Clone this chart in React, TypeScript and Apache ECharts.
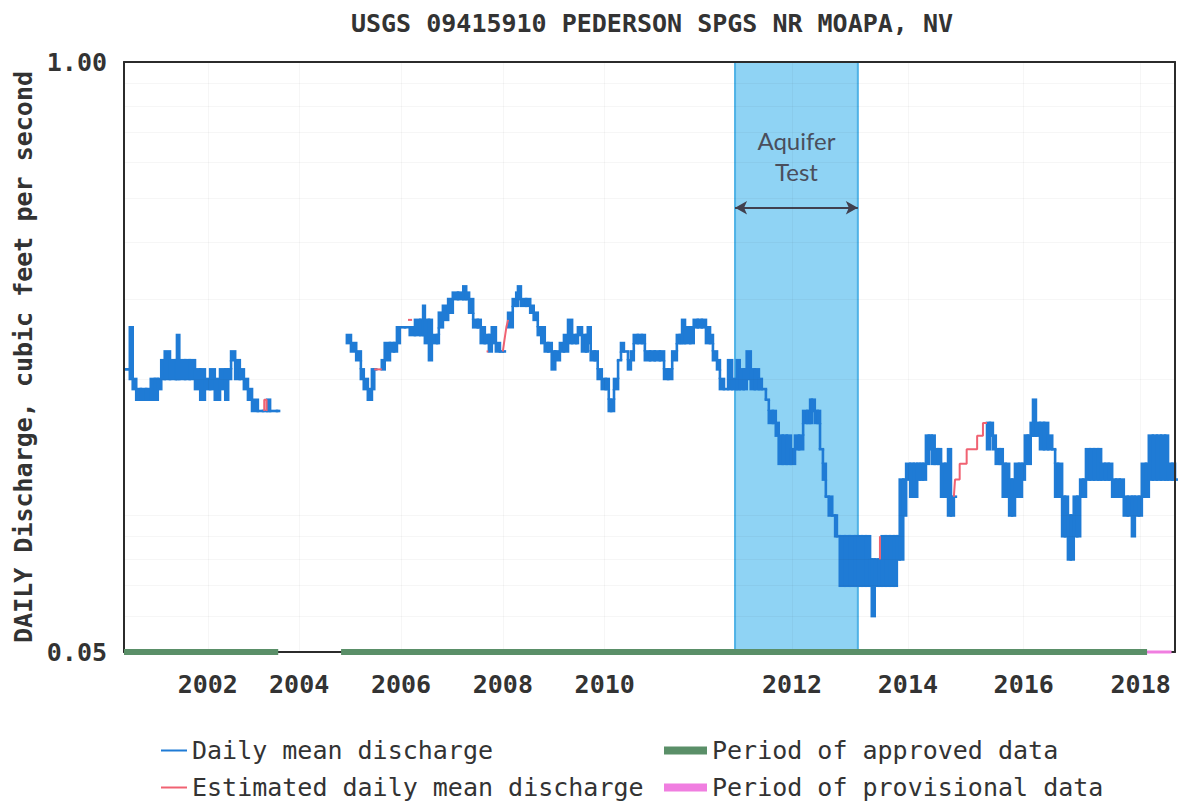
import React, { useEffect, useRef } from 'react';
import * as echarts from 'echarts';

const MONO = '"DejaVu Sans Mono", monospace';
const BLUE = '#1f7bd5';
const RED = '#f06272';
const GREEN = '#5a8f68';
const PINK = '#f07ee0';
const TEXT = '#333333';

const chartTitle = 'USGS 09415910 PEDERSON SPGS NR MOAPA, NV';
const yAxisTitle = 'DAILY Discharge, cubic feet per second';

const xTickLabels = ['2002', '2004', '2006', '2008', '2010', '2012', '2014', '2016', '2018'];
const xTickPositions = [2001.96, 2003.53, 2005.28, 2007.03, 2008.78, 2012.0, 2013.99, 2015.98, 2017.99];
const yTickValues = [0.05, 1.0];
const minorGridValues = [0.06, 0.07, 0.08, 0.09, 0.1, 0.2, 0.3, 0.4, 0.5, 0.6, 0.7, 0.8, 0.9];

const aquiferTestPeriod = [2011.02, 2013.13];
const aquiferArrowLevel = 0.477;

// Daily mean discharge: [decimal year, daily low, daily high] per plotted column
const dailyMean2000to2003 = [
  [2000.54, 0.21, 0.21], [2000.62, 0.20, 0.26], [2000.67, 0.19, 0.20], [2000.73, 0.18, 0.19],
  [2000.81, 0.18, 0.19], [2000.90, 0.18, 0.19], [2000.98, 0.18, 0.20], [2001.05, 0.18, 0.20],
  [2001.10, 0.19, 0.20], [2001.16, 0.20, 0.22], [2001.22, 0.20, 0.23], [2001.31, 0.20, 0.22],
  [2001.41, 0.20, 0.22], [2001.43, 0.20, 0.25], [2001.47, 0.20, 0.22], [2001.57, 0.20, 0.22],
  [2001.65, 0.20, 0.22], [2001.74, 0.19, 0.21], [2001.83, 0.18, 0.21], [2001.91, 0.19, 0.20],
  [2002.00, 0.19, 0.21], [2002.08, 0.18, 0.20], [2002.17, 0.19, 0.21], [2002.26, 0.18, 0.21],
  [2002.31, 0.20, 0.21], [2002.36, 0.22, 0.23], [2002.43, 0.20, 0.22], [2002.51, 0.20, 0.21],
  [2002.58, 0.19, 0.20], [2002.65, 0.18, 0.19], [2002.72, 0.17, 0.18], [2002.82, 0.17, 0.17],
  [2002.91, 0.17, 0.17], [2002.98, 0.17, 0.18], [2003.03, 0.17, 0.17], [2003.15, 0.17, 0.17],
];
const dailyMean2004 = [
  [2004.35, 0.24, 0.25], [2004.42, 0.23, 0.24], [2004.51, 0.22, 0.23], [2004.59, 0.20, 0.21],
  [2004.64, 0.19, 0.20], [2004.71, 0.18, 0.19], [2004.78, 0.19, 0.21], [2004.82, 0.21, 0.21],
];
const dailyMean2005to2007 = [
  [2004.95, 0.21, 0.22], [2005.00, 0.22, 0.24], [2005.09, 0.23, 0.24], [2005.16, 0.23, 0.24],
  [2005.21, 0.24, 0.26], [2005.26, 0.26, 0.26], [2005.35, 0.26, 0.26], [2005.43, 0.25, 0.26],
  [2005.52, 0.25, 0.27], [2005.61, 0.25, 0.27], [2005.66, 0.25, 0.29], [2005.69, 0.24, 0.27],
  [2005.76, 0.22, 0.27], [2005.81, 0.24, 0.25], [2005.90, 0.24, 0.25], [2005.93, 0.26, 0.28],
  [2006.00, 0.27, 0.29], [2006.09, 0.28, 0.30], [2006.17, 0.30, 0.31], [2006.26, 0.30, 0.31],
  [2006.35, 0.30, 0.32], [2006.40, 0.30, 0.31], [2006.45, 0.28, 0.30], [2006.52, 0.26, 0.27],
  [2006.60, 0.26, 0.27], [2006.65, 0.24, 0.26], [2006.72, 0.24, 0.25], [2006.79, 0.23, 0.25],
  [2006.84, 0.24, 0.26], [2006.91, 0.23, 0.24], [2006.98, 0.23, 0.23], [2007.03, 0.23, 0.23],
];
const dailyMean2007to2014 = [
  [2007.12, 0.26, 0.28], [2007.20, 0.29, 0.30], [2007.26, 0.29, 0.31], [2007.29, 0.30, 0.32],
  [2007.34, 0.29, 0.30], [2007.43, 0.29, 0.30], [2007.50, 0.28, 0.29], [2007.56, 0.27, 0.28],
  [2007.63, 0.25, 0.26], [2007.69, 0.24, 0.26], [2007.75, 0.23, 0.24], [2007.81, 0.23, 0.24],
  [2007.87, 0.21, 0.23], [2007.93, 0.22, 0.23], [2008.01, 0.23, 0.24], [2008.08, 0.23, 0.25],
  [2008.15, 0.24, 0.27], [2008.22, 0.24, 0.25], [2008.29, 0.24, 0.25], [2008.32, 0.25, 0.26],
  [2008.39, 0.23, 0.25], [2008.46, 0.23, 0.25], [2008.49, 0.24, 0.26], [2008.54, 0.22, 0.23],
  [2008.61, 0.22, 0.23], [2008.66, 0.20, 0.21], [2008.73, 0.19, 0.20], [2008.80, 0.19, 0.20],
  [2008.85, 0.17, 0.18], [2008.89, 0.17, 0.18], [2008.94, 0.19, 0.20], [2009.01, 0.22, 0.22],
  [2009.06, 0.23, 0.24], [2009.11, 0.23, 0.23], [2009.18, 0.21, 0.22], [2009.23, 0.22, 0.23],
  [2009.28, 0.24, 0.25], [2009.35, 0.24, 0.25], [2009.42, 0.24, 0.25], [2009.47, 0.22, 0.23],
  [2009.56, 0.22, 0.23], [2009.64, 0.22, 0.23], [2009.73, 0.22, 0.23], [2009.80, 0.20, 0.21],
  [2009.87, 0.20, 0.21], [2009.94, 0.22, 0.23], [2010.02, 0.24, 0.25], [2010.07, 0.24, 0.25],
  [2010.11, 0.24, 0.27], [2010.16, 0.24, 0.26], [2010.25, 0.24, 0.26], [2010.31, 0.26, 0.27],
  [2010.38, 0.26, 0.27], [2010.45, 0.26, 0.27], [2010.52, 0.24, 0.26], [2010.59, 0.24, 0.25],
  [2010.64, 0.22, 0.23], [2010.71, 0.21, 0.22], [2010.76, 0.19, 0.20], [2010.83, 0.19, 0.19],
  [2010.90, 0.19, 0.22], [2010.97, 0.19, 0.20], [2011.05, 0.19, 0.22], [2011.10, 0.19, 0.21],
  [2011.17, 0.19, 0.21], [2011.22, 0.20, 0.23], [2011.29, 0.19, 0.21], [2011.36, 0.19, 0.21],
  [2011.43, 0.19, 0.20], [2011.48, 0.19, 0.19], [2011.55, 0.18, 0.18], [2011.60, 0.16, 0.17],
  [2011.67, 0.16, 0.17], [2011.72, 0.15, 0.16], [2011.77, 0.13, 0.15], [2011.84, 0.13, 0.15],
  [2011.91, 0.13, 0.15], [2011.98, 0.13, 0.14], [2012.05, 0.14, 0.15], [2012.12, 0.14, 0.15],
  [2012.19, 0.16, 0.17], [2012.26, 0.16, 0.17], [2012.31, 0.16, 0.18], [2012.34, 0.17, 0.18],
  [2012.39, 0.16, 0.17], [2012.44, 0.16, 0.17], [2012.48, 0.14, 0.14], [2012.53, 0.12, 0.13],
  [2012.58, 0.11, 0.11], [2012.63, 0.10, 0.11], [2012.69, 0.10, 0.10], [2012.74, 0.09, 0.10],
  [2012.77, 0.09, 0.09], [2012.82, 0.07, 0.09], [2012.91, 0.07, 0.09], [2012.99, 0.07, 0.09],
  [2013.08, 0.07, 0.09], [2013.13, 0.07, 0.09], [2013.20, 0.07, 0.09], [2013.27, 0.07, 0.09],
  [2013.34, 0.07, 0.08], [2013.37, 0.06, 0.08], [2013.42, 0.07, 0.08], [2013.49, 0.07, 0.08],
  [2013.54, 0.07, 0.09], [2013.61, 0.07, 0.09], [2013.68, 0.07, 0.09], [2013.75, 0.07, 0.09],
  [2013.80, 0.08, 0.09], [2013.85, 0.08, 0.12], [2013.91, 0.10, 0.12], [2013.96, 0.12, 0.13],
  [2014.03, 0.11, 0.13], [2014.09, 0.11, 0.13], [2014.15, 0.12, 0.13], [2014.20, 0.12, 0.13],
  [2014.25, 0.12, 0.13], [2014.30, 0.13, 0.15], [2014.35, 0.14, 0.15], [2014.40, 0.13, 0.15],
  [2014.45, 0.13, 0.14], [2014.51, 0.13, 0.14], [2014.56, 0.11, 0.13], [2014.63, 0.11, 0.13],
  [2014.68, 0.10, 0.14], [2014.73, 0.10, 0.11], [2014.78, 0.11, 0.11],
];
const dailyMean2015to2018 = [
  [2015.35, 0.14, 0.16], [2015.40, 0.15, 0.16], [2015.45, 0.14, 0.15], [2015.50, 0.13, 0.14],
  [2015.57, 0.13, 0.14], [2015.62, 0.11, 0.13], [2015.67, 0.11, 0.13], [2015.73, 0.10, 0.12],
  [2015.78, 0.10, 0.12], [2015.83, 0.11, 0.13], [2015.90, 0.11, 0.13], [2015.95, 0.12, 0.13],
  [2016.00, 0.13, 0.15], [2016.05, 0.13, 0.15], [2016.10, 0.15, 0.16], [2016.14, 0.15, 0.18],
  [2016.19, 0.15, 0.16], [2016.26, 0.14, 0.16], [2016.33, 0.14, 0.16], [2016.40, 0.14, 0.15],
  [2016.47, 0.14, 0.14], [2016.52, 0.11, 0.13], [2016.57, 0.11, 0.13], [2016.64, 0.09, 0.11],
  [2016.69, 0.09, 0.11], [2016.74, 0.08, 0.10], [2016.79, 0.08, 0.10], [2016.84, 0.09, 0.11],
  [2016.90, 0.09, 0.11], [2016.95, 0.11, 0.12], [2017.00, 0.11, 0.12], [2017.05, 0.12, 0.14],
  [2017.12, 0.12, 0.14], [2017.19, 0.12, 0.14], [2017.26, 0.12, 0.14], [2017.31, 0.12, 0.13],
  [2017.38, 0.12, 0.13], [2017.44, 0.12, 0.13], [2017.50, 0.11, 0.12], [2017.57, 0.11, 0.12],
  [2017.63, 0.11, 0.12], [2017.70, 0.10, 0.11], [2017.77, 0.10, 0.11], [2017.84, 0.09, 0.11],
  [2017.89, 0.10, 0.11], [2017.96, 0.10, 0.11], [2018.01, 0.11, 0.13], [2018.08, 0.11, 0.13],
  [2018.13, 0.12, 0.15], [2018.20, 0.12, 0.15], [2018.27, 0.12, 0.15], [2018.34, 0.12, 0.15],
  [2018.41, 0.12, 0.15], [2018.46, 0.12, 0.13], [2018.53, 0.12, 0.13], [2018.58, 0.12, 0.12],
];

// Estimated daily mean discharge: [decimal year, value]
const estimated2002 = [[2002.93, 0.17], [2002.93, 0.18], [2002.97, 0.18], [2002.97, 0.17]];
const estimated2004 = [[2004.82, 0.21], [2004.95, 0.21]];
const estimated2005 = [[2005.40, 0.27], [2005.47, 0.27]];
const estimated2006 = [[2006.75, 0.23], [2006.78, 0.23]];
const estimated2007 = [[2007.03, 0.23], [2007.05, 0.24], [2007.07, 0.25], [2007.09, 0.26], [2007.12, 0.27]];
const estimated2013 = [[2013.51, 0.08], [2013.51, 0.09]];
const estimated2015 = [
  [2014.78, 0.11], [2014.80, 0.12], [2014.88, 0.12], [2014.88, 0.13], [2015.00, 0.13], [2015.00, 0.14],
  [2015.18, 0.14], [2015.18, 0.15], [2015.28, 0.15], [2015.28, 0.16], [2015.35, 0.16],
];

// Data-status periods shown along the bottom axis: [start year, end year]
const approvedPeriods = [[2000.52, 2003.17], [2004.25, 2018.10]];
const provisionalPeriods = [[2018.10, 2018.52]];

const X_MIN = 2000.52;
const X_MAX = 2018.58;
const Y_MIN = 0.05;
const Y_MAX = 1.0;

export default function App() {
  const ref = useRef<HTMLDivElement>(null);

  useEffect(() => {
    if (!ref.current) return;
    const chart = echarts.init(ref.current, null, { renderer: 'svg' });

    const dailySegments = [dailyMean2000to2003, dailyMean2004, dailyMean2005to2007, dailyMean2007to2014, dailyMean2015to2018];
    const dailyData = dailySegments.flatMap((seg, s) => seg.map(([x, lo, hi]) => [x, lo, hi, s]));
    const estimatedSegments = [estimated2002, estimated2004, estimated2005, estimated2006, estimated2007, estimated2013, estimated2015];

    const tickLabel = (v: number) => {
      const i = xTickPositions.findIndex((p) => Math.abs(p - v) < 0.005);
      return i >= 0 ? xTickLabels[i] : '';
    };

    const axisLineStyle = { show: true, lineStyle: { color: '#2b2b2b', width: 2 } };

    const series: any[] = [
      {
        name: 'aquifer',
        type: 'line',
        data: [],
        z: 1,
        markArea: {
          silent: true,
          itemStyle: { color: '#8fd3f4', borderColor: '#4fb2e6', borderWidth: 2 },
          label: {
            show: true,
            position: 'insideTop',
            distance: 64,
            formatter: 'Aquifer\nTest',
            fontFamily: 'Lato, "Open Sans", sans-serif',
            fontSize: 24,
            lineHeight: 31,
            color: '#4a4e5c',
          },
          data: [[{ xAxis: aquiferTestPeriod[0] }, { xAxis: aquiferTestPeriod[1] }]],
        },
        markLine: {
          silent: true,
          symbol: ['arrow', 'arrow'],
          symbolSize: [10, 12],
          label: { show: false },
          lineStyle: { color: '#40404f', width: 2, type: 'solid' },
          data: [[
            { coord: [aquiferTestPeriod[0], aquiferArrowLevel] },
            { coord: [aquiferTestPeriod[1], aquiferArrowLevel] },
          ]],
        },
      },
      {
        name: 'gridlines',
        type: 'line',
        data: [],
        z: 2,
        markLine: {
          silent: true,
          symbol: 'none',
          label: { show: false },
          lineStyle: { color: 'rgba(40,40,40,0.045)', width: 1, type: 'solid' },
          data: [
            ...minorGridValues.map((v) => ({ yAxis: v })),
            ...xTickPositions.map((v) => ({ xAxis: v })),
          ],
        },
      },
      {
        name: 'Daily mean discharge',
        type: 'custom',
        z: 3,
        itemStyle: { color: BLUE },
        encode: { x: 0, y: 1 },
        data: dailyData,
        renderItem: (params: any, api: any) => {
          const i = params.dataIndex;
          const cur = dailyData[i];
          const next = dailyData[i + 1];
          const prev = dailyData[i - 1];
          const top = api.coord([cur[0], cur[2]]);
          const bot = api.coord([cur[0], cur[1]]);
          const x0 = top[0];
          const x1 = next && next[3] === cur[3] ? api.coord([next[0], cur[2]])[0] : x0 + 2;
          const half = 1.3;
          const children: any[] = [
            {
              type: 'rect',
              shape: { x: x0 - half, y: top[1] - half, width: x1 - x0 + 2 * half, height: bot[1] - top[1] + 2 * half },
              style: { fill: BLUE },
            },
          ];
          if (prev && prev[3] === cur[3]) {
            const pTop = api.coord([cur[0], prev[2]])[1];
            const pBot = api.coord([cur[0], prev[1]])[1];
            let y0 = -1;
            let y1 = -1;
            if (pBot < top[1]) { y0 = pBot; y1 = top[1]; }
            else if (pTop > bot[1]) { y0 = bot[1]; y1 = pTop; }
            if (y0 >= 0) {
              children.push({
                type: 'rect',
                shape: { x: x0 - half, y: y0, width: 2 * half, height: y1 - y0 },
                style: { fill: BLUE },
              });
            }
          }
          return { type: 'group', children };
        },
      },
      ...estimatedSegments.map((seg) => ({
        name: 'Estimated daily mean discharge',
        type: 'line',
        z: 4,
        data: seg,
        symbol: 'none',
        itemStyle: { color: RED },
        lineStyle: { color: RED, width: 2 },
      })),
      ...approvedPeriods.map(([a, b]) => ({
        name: 'Period of approved data',
        type: 'line',
        z: 12,
        clip: false,
        data: [[a, Y_MIN], [b, Y_MIN]],
        symbol: 'none',
        itemStyle: { color: GREEN },
        lineStyle: { color: GREEN, width: 6 },
      })),
      ...provisionalPeriods.map(([a, b]) => ({
        name: 'Period of provisional data',
        type: 'line',
        z: 12,
        clip: false,
        data: [[a, Y_MIN], [b, Y_MIN]],
        symbol: 'none',
        itemStyle: { color: PINK },
        lineStyle: { color: PINK, width: 3 },
      })),
    ];

    const legendText = { fontFamily: MONO, fontSize: 25, lineHeight: 25, color: TEXT };
    const legendItem = (name: string, left: number, top: number, w: number, h: number) => ({
      left,
      top,
      padding: 0,
      itemWidth: w,
      itemHeight: h,
      textStyle: legendText,
      selectedMode: false,
      data: [{ name, icon: 'rect' }],
    });

    chart.setOption({
      animation: false,
      backgroundColor: '#ffffff',
      title: {
        text: chartTitle,
        left: 647,
        top: 6,
        textAlign: 'center',
        textStyle: { fontFamily: MONO, fontWeight: 'bold', fontSize: 25, color: TEXT },
      },
      grid: { left: 124, right: 3, top: 62, bottom: 151, show: false },
      legend: [
        legendItem('Daily mean discharge', 161, 738, 26, 2),
        legendItem('Estimated daily mean discharge', 161, 775, 26, 2),
        legendItem('Period of approved data', 664, 738, 43, 8),
        legendItem('Period of provisional data', 664, 775, 43, 8),
      ],
      xAxis: [
        {
          type: 'value',
          position: 'bottom',
          min: X_MIN,
          max: X_MAX,
          z: 10,
          axisLine: axisLineStyle,
          axisTick: { show: false },
          splitLine: { show: false },
          axisLabel: {
            customValues: xTickPositions,
            formatter: tickLabel,
            fontFamily: MONO,
            fontWeight: 'bold',
            fontSize: 25,
            color: TEXT,
            margin: 20,
          },
        },
        {
          type: 'value',
          position: 'top',
          min: X_MIN,
          max: X_MAX,
          z: 10,
          axisLine: axisLineStyle,
          axisTick: { show: false },
          splitLine: { show: false },
          axisLabel: { show: false },
        },
      ],
      yAxis: [
        {
          type: 'log',
          logBase: 10,
          position: 'left',
          min: Y_MIN,
          max: Y_MAX,
          z: 10,
          axisLine: axisLineStyle,
          axisTick: { show: false },
          splitLine: { show: false },
          axisLabel: {
            customValues: yTickValues,
            formatter: (v: number) => v.toFixed(2),
            fontFamily: MONO,
            fontWeight: 'bold',
            fontSize: 25,
            color: TEXT,
            margin: 17,
          },
          name: yAxisTitle,
          nameLocation: 'middle',
          nameRotate: 90,
          nameGap: 88,
          nameTextStyle: { fontFamily: MONO, fontWeight: 'bold', fontSize: 25, color: TEXT },
        },
        {
          type: 'log',
          logBase: 10,
          position: 'right',
          min: Y_MIN,
          max: Y_MAX,
          z: 10,
          axisLine: axisLineStyle,
          axisTick: { show: false },
          splitLine: { show: false },
          axisLabel: { show: false },
        },
      ],
      series,
    });

    return () => chart.dispose();
  }, []);

  return <div ref={ref} style={{ position: 'absolute', left: 0, top: 0, width: 1178, height: 803 }} />;
}
